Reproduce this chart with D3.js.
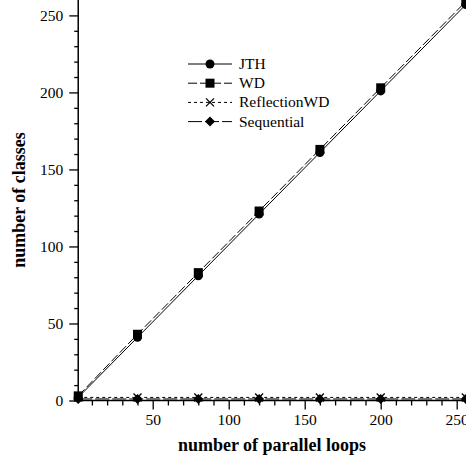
<!DOCTYPE html>
<html>
<head>
<meta charset="utf-8">
<script src="https://cdn.jsdelivr.net/npm/d3@7"></script>
<style>
  body { margin: 0; background: #fff; }
  text { font-family: "Liberation Serif", "Times New Roman", serif; fill: #000; }
</style>
</head>
<body>
<div id="chart"></div>
<script>
// data
var loops = [1, 40, 80, 120, 160, 200, 256];
var jth = [2, 41, 81, 121, 161, 201, 257];
var wd = [3, 43, 83, 123, 163, 203, 259];
var reflectionWD = [2, 2, 2, 2, 2, 2, 2];
var sequential = [1, 1, 1, 1, 1, 1, 1];
var xTicks = [50, 100, 150, 200, 250];
var yTicks = [0, 50, 100, 150, 200, 250];

var svgWidth = 466;
var svgHeight = 461;

var svg = d3.select("#chart")
  .append("svg")
  .attr("width", svgWidth)
  .attr("height", svgHeight);

var x = d3.scaleLinear().domain([0, 250]).range([76.7, 456.7]);
var y = d3.scaleLinear().domain([0, 260]).range([400.5, 0]);

var series = [
  { name: "JTH", values: jth, dash: null, marker: "circle" },
  { name: "WD", values: wd, dash: "9,3", marker: "square" },
  { name: "ReflectionWD", values: reflectionWD, dash: "3,3", marker: "cross" },
  { name: "Sequential", values: sequential, dash: "14,3", marker: "diamond" }
];

function drawMarker(g, type, cx, cy) {
  if (type == "circle") {
    g.append("circle").attr("cx", cx).attr("cy", cy).attr("r", 4.5).attr("fill", "#000");
  } else if (type == "square") {
    g.append("rect").attr("x", cx - 4.5).attr("y", cy - 4.5).attr("width", 9).attr("height", 9).attr("fill", "#000");
  } else if (type == "cross") {
    g.append("path")
      .attr("d", `M${cx - 4},${cy - 4}L${cx + 4},${cy + 4}M${cx - 4},${cy + 4}L${cx + 4},${cy - 4}`)
      .attr("stroke", "#000").attr("stroke-width", 1.3);
  } else {
    g.append("path")
      .attr("d", `M${cx},${cy - 5}L${cx + 5},${cy}L${cx},${cy + 5}L${cx - 5},${cy}Z`)
      .attr("fill", "#000");
  }
}

// lines and markers (drawn back to front)
var plot = svg.append("g");
series.slice().reverse().forEach(function(s) {
  var line = d3.line()
    .x((d, i) => x(loops[i]))
    .y(d => y(d));
  plot.append("path")
    .datum(s.values)
    .attr("d", line)
    .attr("fill", "none")
    .attr("stroke", "#000")
    .attr("stroke-width", 1)
    .attr("stroke-dasharray", s.dash);
  s.values.forEach(function(v, i) {
    drawMarker(plot, s.marker, x(loops[i]), y(v));
  });
});

// axes
var minorX = d3.range(10, 251, 10).filter(d => d % 50 != 0);
var minorY = d3.range(10, 251, 10).filter(d => d % 50 != 0);

var xAxisG = svg.append("g").attr("transform", `translate(0, ${y(0)})`);
xAxisG.call(d3.axisBottom(x).tickValues(xTicks).tickSize(9).tickPadding(4));
xAxisG.append("g").call(d3.axisBottom(x).tickValues(minorX).tickSize(5).tickFormat(""));

var yAxisG = svg.append("g").attr("transform", `translate(${x(1)}, 0)`);
yAxisG.call(d3.axisLeft(y).tickValues(yTicks).tickSize(9).tickPadding(6));
yAxisG.append("g").call(d3.axisLeft(y).tickValues(minorY).tickSize(4).tickFormat(""));

svg.selectAll(".domain").remove();
svg.selectAll(".tick line").attr("stroke", "#000").attr("stroke-width", 1.3);
svg.selectAll(".tick text")
  .style("font-family", "'Liberation Serif', serif")
  .style("font-size", "15.5px")
  .attr("fill", "#000");

svg.append("line")
  .attr("x1", x(1)).attr("x2", svgWidth)
  .attr("y1", y(0)).attr("y2", y(0))
  .attr("stroke", "#000").attr("stroke-width", 1.5);
svg.append("line")
  .attr("x1", x(1)).attr("x2", x(1))
  .attr("y1", 0).attr("y2", y(0))
  .attr("stroke", "#000").attr("stroke-width", 1.5);

// axis titles
svg.append("text")
  .attr("x", 272)
  .attr("y", 451)
  .attr("text-anchor", "middle")
  .attr("font-size", 18)
  .attr("font-weight", "bold")
  .text("number of parallel loops");

svg.append("text")
  .attr("transform", "rotate(-90)")
  .attr("x", -200)
  .attr("y", 25)
  .attr("text-anchor", "middle")
  .attr("font-size", 18)
  .attr("font-weight", "bold")
  .text("number of classes");

// legend
var legend = svg.append("g");
series.forEach(function(s, i) {
  var ly = 64 + i * 19.2;
  legend.append("line")
    .attr("x1", 188).attr("x2", 232)
    .attr("y1", ly).attr("y2", ly)
    .attr("stroke", "#000")
    .attr("stroke-width", 1)
    .attr("stroke-dasharray", s.dash);
  drawMarker(legend, s.marker, 210, ly);
  legend.append("text")
    .attr("x", 239)
    .attr("y", ly + 5)
    .attr("font-size", 15.5)
    .text(s.name);
});
</script>
</body>
</html>
